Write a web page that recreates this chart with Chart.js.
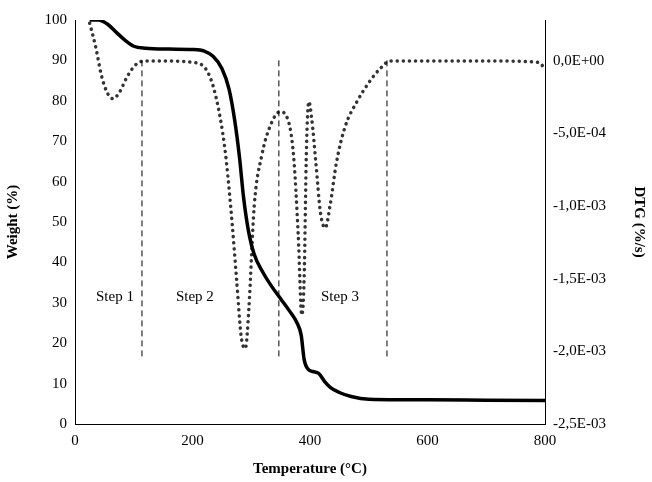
<!DOCTYPE html>
<html>
<head>
<meta charset="utf-8">
<script src="https://cdn.jsdelivr.net/npm/chart.js@4"></script>
<style>
  html, body { margin: 0; padding: 0; background: #fff; }
  #wrap { width: 652px; height: 482px; }
</style>
</head>
<body>
<div id="wrap"><canvas id="c"></canvas></div>
<script>
// weight curve (temperature °C, weight %)
const weightT = [25, 40, 55, 70, 85, 100, 120, 160, 200, 220, 235, 250, 262, 272, 280, 287, 295, 305, 320, 335, 350, 365, 378, 385, 390, 397, 405, 415, 425, 435, 450, 470, 500, 550, 600, 700, 800];
const weightV = [100, 100, 99, 97, 95, 93.5, 93, 92.8, 92.7, 92.3, 91, 88, 83, 75, 66, 56, 48, 42, 37.5, 34, 31, 28, 25, 22, 16, 13.5, 13, 12.5, 10.5, 9, 7.8, 6.8, 6.1, 6, 6, 5.9, 5.8];

// DTG curve (temperature °C, %/s)
const dtgT = [25, 35, 45, 55, 65, 75, 90, 105, 120, 150, 200, 225, 240, 255, 265, 275, 283, 290, 296, 305, 318, 332, 349, 362, 372, 380, 386, 390, 394, 398, 403, 410, 418, 426, 434, 445, 460, 480, 500, 520, 536, 600, 700, 790, 800];
const dtgV = [2.6e-4, 1.0e-4, -1.0e-4, -2.2e-4, -2.6e-4, -2.2e-4, -1.0e-4, -2.0e-5, 0, 0, -1.0e-5, -7.0e-5, -2.5e-4, -6.0e-4, -1.0e-3, -1.5e-3, -1.9e-3, -1.98e-3, -1.7e-3, -1.0e-3, -6.5e-4, -4.5e-4, -3.5e-4, -4.0e-4, -6.5e-4, -1.2e-3, -1.75e-3, -1.5e-3, -6.0e-4, -2.8e-4, -4.0e-4, -7.0e-4, -1.05e-3, -1.15e-3, -1.0e-3, -7.0e-4, -4.5e-4, -2.8e-4, -1.5e-4, -5.0e-5, 0, 0, 0, -1.0e-5, -6.0e-5];

const stepLines = [114, 347, 531];
const stepLabels = ['Step 1', 'Step 2', 'Step 3'];
const stepLabelT = [68, 204, 451];
const dtgTicks = [0, -5e-4, -1e-3, -1.5e-3, -2e-3, -2.5e-3];

function dtgLabel(v) {
  if (Math.abs(v) < 1e-12) return '0,0E+00';
  const s = v.toExponential(1).split('e');
  const exp = parseInt(s[1], 10);
  const e = (exp < 0 ? '-' : '+') + String(Math.abs(exp)).padStart(2, '0');
  return s[0].replace('.', ',') + 'E' + e;
}

const stepsPlugin = {
  id: 'steps',
  afterDatasetsDraw(chart) {
    const ctx = chart.ctx, x = chart.scales.x, y = chart.scales.y;
    ctx.save();
    ctx.strokeStyle = '#000';
    ctx.lineWidth = 1;
    ctx.setLineDash([6, 4]);
    stepLines.forEach(t => {
      ctx.beginPath();
      ctx.moveTo(x.getPixelForValue(t), y.getPixelForValue(90));
      ctx.lineTo(x.getPixelForValue(t), y.getPixelForValue(16.5));
      ctx.stroke();
    });
    ctx.setLineDash([]);
    ctx.fillStyle = '#000';
    ctx.font = '15px "Liberation Serif"';
    ctx.textAlign = 'center';
    ctx.textBaseline = 'middle';
    stepLabels.forEach((s, i) => {
      ctx.fillText(s, x.getPixelForValue(stepLabelT[i]), y.getPixelForValue(31.5));
    });
    ctx.restore();
  }
};

const font = { family: '"Liberation Serif"', size: 15 };
const titleFont = { family: '"Liberation Serif"', size: 15, weight: 'bold' };

new Chart(document.getElementById('c'), {
  type: 'line',
  data: {
    datasets: [
      { data: weightT.map((t, i) => ({ x: t, y: weightV[i] })), yAxisID: 'y', borderColor: '#000', borderWidth: 3.5, pointRadius: 0, cubicInterpolationMode: 'monotone' },
      { data: dtgT.map((t, i) => ({ x: t, y: dtgV[i] })), yAxisID: 'y2', borderColor: '#333', borderWidth: 3.5, borderDash: [0.1, 6], borderCapStyle: 'round', pointRadius: 0, cubicInterpolationMode: 'monotone' }
    ]
  },
  options: {
    responsive: true,
    maintainAspectRatio: false,
    animation: false,
    layout: { padding: { top: 20, right: 0, left: 0, bottom: 0 } },
    plugins: { legend: { display: false }, tooltip: { enabled: false } },
    scales: {
      x: {
        type: 'linear', min: 0, max: 800,
        grid: { display: false, drawTicks: true, tickLength: 5, color: '#000' },
        border: { color: '#000', width: 1 },
        ticks: { stepSize: 200, color: '#000', font: font },
        title: { display: true, text: 'Temperature (°C)', color: '#000', font: titleFont, padding: { top: 4 } },
        afterFit(s) { s.height = 58; }
      },
      y: {
        position: 'left', min: 0, max: 100,
        grid: { display: false, tickLength: 5 },
        border: { color: '#000', width: 1 },
        ticks: { stepSize: 10, color: '#000', font: font },
        title: { display: true, text: 'Weight (%)', color: '#000', font: titleFont },
        afterFit(s) { s.width = 75; }
      },
      y2: {
        position: 'right', min: -2.5e-3, max: 2.82e-4,
        grid: { display: false, tickLength: 5 },
        border: { color: '#000', width: 1 },
        afterBuildTicks(s) { s.ticks = dtgTicks.map(v => ({ value: v })); },
        ticks: { color: '#000', font: font, callback: v => dtgLabel(v) },
        title: { display: true, text: 'DTG (%/s)', color: '#000', font: titleFont },
        afterFit(s) { s.width = 107; }
      }
    }
  },
  plugins: [stepsPlugin]
});
</script>
</body>
</html>
